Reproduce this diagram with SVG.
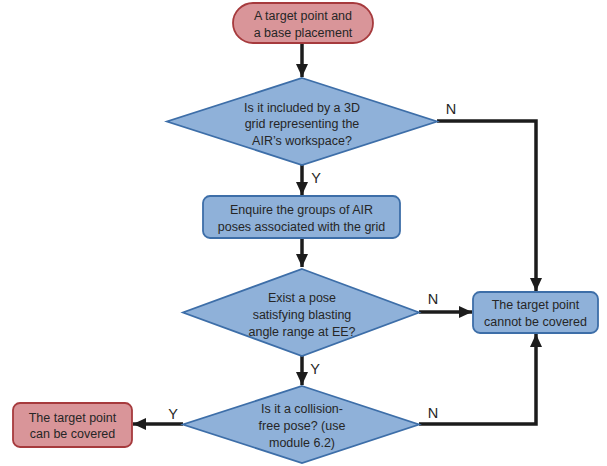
<svg xmlns="http://www.w3.org/2000/svg" width="607" height="466" viewBox="0 0 607 466">
<defs>
<style>
.t{font-family:"Liberation Sans",Arial,sans-serif;font-size:12.5px;fill:#262626;text-anchor:middle}
.l{font-family:"Liberation Sans",Arial,sans-serif;font-size:14.5px;fill:#262626;text-anchor:middle}
.b{fill:#8fb1d9;stroke:#3d6ea8;stroke-width:1.8}
.r{fill:#d99599;stroke:#a63a3d;stroke-width:1.8}
.c{fill:none;stroke:#1c1c1c;stroke-width:3.5}
</style>
<marker id="ah" markerUnits="userSpaceOnUse" markerWidth="14" markerHeight="14" viewBox="0 0 14 14" refX="13" refY="7" orient="auto">
<path d="M0,1 L13,7 L0,13 Z" fill="#1c1c1c"/>
</marker>
</defs>
<g id="connectors">
<path class="c" d="M302,43 V77" marker-end="url(#ah)"/>
<path class="c" d="M302,165 V195" marker-end="url(#ah)"/>
<path class="c" d="M302,238 V267" marker-end="url(#ah)"/>
<path class="c" d="M302,356 V385" marker-end="url(#ah)"/>
<path class="c" d="M437,121 H536 V291" marker-end="url(#ah)"/>
<path class="c" d="M419,312 H472" marker-end="url(#ah)"/>
<path class="c" d="M419,424 H536 V334" marker-end="url(#ah)"/>
<path class="c" d="M183,424 H133" marker-end="url(#ah)"/>
<text class="l" x="316" y="183">Y</text>
<text class="l" x="451" y="114">N</text>
<text class="l" x="433" y="304">N</text>
<text class="l" x="315" y="374">Y</text>
<text class="l" x="433" y="418">N</text>
<text class="l" x="173" y="419">Y</text>
</g>
<g id="start">
<rect class="r" x="233" y="3" width="140" height="40" rx="20"/>
<text class="t" x="303" y="19.5">A target point and</text>
<text class="t" x="303" y="36.5">a base placement</text>
</g>
<g id="d1">
<polygon class="b" points="302,78 437,121.5 302,165 167,121.5"/>
<text class="t" x="302" y="111.5">Is it included by a 3D</text>
<text class="t" x="302" y="128">grid representing the</text>
<text class="t" x="302" y="144.5">AIR’s workspace?</text>
</g>
<g id="enquire">
<rect class="b" x="203" y="196" width="197" height="42" rx="7"/>
<text class="t" x="301.5" y="213.5">Enquire the groups of AIR</text>
<text class="t" x="301.5" y="231">poses associated with the grid</text>
</g>
<g id="d2">
<polygon class="b" points="302,269 419,312.5 302,356 183,312.5"/>
<text class="t" x="302" y="301.5">Exist a pose</text>
<text class="t" x="302" y="318.5">satisfying blasting</text>
<text class="t" x="302" y="335.5">angle range at EE?</text>
</g>
<g id="d3">
<polygon class="b" points="302,386 419,424.5 302,463 183,424.5"/>
<text class="t" x="302" y="412.5">Is it a collision-</text>
<text class="t" x="302" y="429.5">free pose? (use</text>
<text class="t" x="302" y="446.5">module 6.2)</text>
</g>
<g id="cannot">
<rect class="b" x="473" y="292" width="125" height="41" rx="7"/>
<text class="t" x="535.5" y="308.5">The target point</text>
<text class="t" x="535.5" y="326">cannot be covered</text>
</g>
<g id="can">
<rect class="r" x="13" y="403" width="119" height="44" rx="7"/>
<text class="t" x="72.5" y="421.5">The target point</text>
<text class="t" x="72.5" y="438">can be covered</text>
</g>
</svg>
